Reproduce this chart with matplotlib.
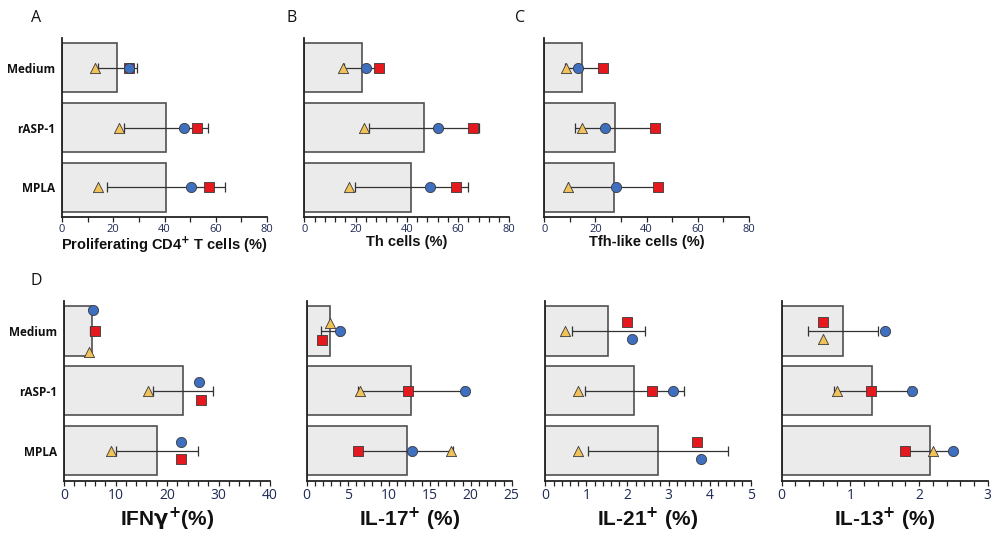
import matplotlib
matplotlib.use("Agg")
import matplotlib.pyplot as plt
import numpy as np

plt.rcParams['font.family'] = ['Open Sans', 'DejaVu Sans']

categories = ["Medium", "rASP-1", "MPLA"]

# Panel A: Proliferating CD4+ T cells (%)
a_mean = [21.5, 40.6, 40.6]
a_sd = [7.6, 16.4, 23.2]
a_tri = [12.7, 22.1, 14.0]
a_circ = [26.0, 47.6, 50.5]
a_sq = [26.3, 52.7, 57.4]

# Panel B: Th cells (%)
b_mean = [22.5, 46.7, 41.8]
b_sd = [6.9, 21.4, 21.9]
b_tri = [15.0, 23.4, 17.3]
b_circ = [23.9, 52.2, 48.9]
b_sq = [29.3, 65.7, 59.2]

# Panel C: Tfh-like cells (%)
c_mean = [14.7, 27.5, 27.2]
c_sd = [6.6, 15.3, 17.9]
c_tri = [8.6, 14.7, 9.1]
c_circ = [13.3, 23.9, 28.2]
c_sq = [22.8, 43.2, 44.6]

# Panel D1: IFNg+ (%)
ifn_mean = [5.45, 23.1, 18.1]
ifn_sd = [0.42, 5.75, 7.95]
ifn_tri = [4.9, 16.4, 9.1]
ifn_circ = [5.6, 26.3, 22.7]
ifn_sq = [6.0, 26.6, 22.8]

# Panel D2: IL-17+ (%)
il17_mean = [2.8, 12.7, 12.2]
il17_sd = [1.05, 6.4, 5.7]
il17_tri = [2.85, 6.5, 17.6]
il17_circ = [4.0, 19.3, 12.8]
il17_sq = [1.9, 12.4, 6.3]

# Panel D3: IL-21+ (%)
il21_mean = [1.53, 2.17, 2.75]
il21_sd = [0.89, 1.21, 1.70]
il21_tri = [0.49, 0.8, 0.8]
il21_circ = [2.1, 3.1, 3.8]
il21_sq = [2.0, 2.6, 3.7]

# Panel D4: IL-13+ (%)
il13_mean = [0.89, 1.31, 2.16]
il13_sd = [0.51, 0.55, 0.35]
il13_tri = [0.6, 0.8, 2.2]
il13_circ = [1.5, 1.9, 2.49]
il13_sq = [0.6, 1.3, 1.8]

# vertical jitter offsets (category units) used in the original to avoid overlap
no_jit = [0.0, 0.0, 0.0]

W, H = 992, 539
fig = plt.figure(figsize=(W / 100, H / 100), dpi=100)

def add_ax(left, right, top, bottom):
    return fig.add_axes([left / W, 1 - bottom / H, (right - left) / W, (bottom - top) / H])

TICKC = '#1f2a55'
BLUE = '#3f6fbf'
RED = '#e5181e'
YEL = '#f2c25a'
EDGE = '#3a3a3a'

def panel(ax, mean, sd, tri, circ, sq, xmax, major, minor, xlabel,
          show_y, xl_size, tick_size, labelpad, jt=no_jit, jc=no_jit, js=no_jit):
    y = np.arange(len(categories))
    ax.barh(y, mean, height=0.82, color='#ebebeb', edgecolor='#505050', linewidth=1.2, zorder=1)
    ax.errorbar(mean, y, xerr=sd, fmt='none', ecolor='#333333', elinewidth=0.9,
                capsize=3.5, capthick=0.9, zorder=2)
    ax.scatter(sq, y + np.array(js), marker='s', s=50, color=RED, edgecolor=EDGE, linewidth=0.6, zorder=3)
    ax.scatter(circ, y + np.array(jc), marker='o', s=54, color=BLUE, edgecolor=EDGE, linewidth=0.6, zorder=4)
    ax.scatter(tri, y + np.array(jt), marker='^', s=54, color=YEL, edgecolor=EDGE, linewidth=0.6, zorder=5)
    ax.set_xlim(0, xmax)
    ax.set_ylim(2.5, -0.5)
    ax.set_xticks(np.arange(0, xmax + 1e-9, major))
    ax.set_xticks(np.arange(0, xmax + 1e-9, minor), minor=True)
    ax.xaxis.set_major_formatter(matplotlib.ticker.FormatStrFormatter('%g'))
    for s in ['top', 'right']:
        ax.spines[s].set_visible(False)
    for s in ['left', 'bottom']:
        ax.spines[s].set_color('#222222')
        ax.spines[s].set_linewidth(1.3)
    ax.tick_params(axis='x', which='both', direction='out', length=3.5, width=0.9,
                   color='#222222', labelsize=tick_size, labelcolor=TICKC, pad=1.5)
    ax.tick_params(axis='y', which='both', length=0)
    ax.set_yticks(y)
    if show_y:
        ax.set_yticklabels(categories, fontweight='bold', fontsize=8.5, color='#111111')
        ax.tick_params(axis='y', pad=5)
    else:
        ax.set_yticklabels([])
    ax.set_xlabel(xlabel, fontsize=xl_size, fontweight='bold', color='#111111',
                  family=['Liberation Sans', 'DejaVu Sans'], labelpad=labelpad)

# Top row
axA = add_ax(62, 267, 38, 217)
panel(axA, a_mean, a_sd, a_tri, a_circ, a_sq, 80, 20, 10,
      'Proliferating CD4$^{\\bf{+}}$ T cells (%)', True, 10.5, 8, 0)
axB = add_ax(304.3, 509.3, 38, 217)
panel(axB, b_mean, b_sd, b_tri, b_circ, b_sq, 80, 20, 4,
      'Th cells (%)', False, 10.5, 8, 0)
axC = add_ax(544.3, 748.7, 38, 217)
panel(axC, c_mean, c_sd, c_tri, c_circ, c_sq, 80, 20, 10,
      'Tfh-like cells (%)', False, 10.5, 8, 0)

# Bottom row
axD1 = add_ax(64, 270, 301, 480.7)
panel(axD1, ifn_mean, ifn_sd, ifn_tri, ifn_circ, ifn_sq, 40, 10, 2,
      'IFN$\\mathbf{\\gamma}^{\\bf{+}}$(%)', True, 15, 10, 2,
      jt=[0.35, 0.0, 0.0], jc=[-0.35, -0.14, -0.15], js=[0.0, 0.15, 0.14])
axD2 = add_ax(306.7, 511.7, 301, 480.7)
panel(axD2, il17_mean, il17_sd, il17_tri, il17_circ, il17_sq, 25, 5, 1,
      'IL-17$^{\\bf{+}}$ (%)', False, 15, 10, 2,
      jt=[-0.13, 0.0, 0.0], jc=[0.0, 0.0, 0.0], js=[0.15, 0.0, 0.0])
axD3 = add_ax(545.3, 750.7, 301, 480.7)
panel(axD3, il21_mean, il21_sd, il21_tri, il21_circ, il21_sq, 5, 1, 0.2,
      'IL-21$^{\\bf{+}}$ (%)', False, 15, 10, 2,
      jt=[0.0, 0.0, 0.0], jc=[0.14, 0.0, 0.14], js=[-0.15, 0.0, -0.15])
axD4 = add_ax(781.7, 987.7, 301, 480.7)
panel(axD4, il13_mean, il13_sd, il13_tri, il13_circ, il13_sq, 3, 1, 0.2,
      'IL-13$^{\\bf{+}}$ (%)', False, 15, 10, 2,
      jt=[0.14, 0.0, 0.0], jc=[0.0, 0.0, 0.0], js=[-0.15, 0.0, 0.0])

# Panel letters
for letter, x, y in [('A', 36, 18), ('B', 292, 18), ('C', 520, 18), ('D', 36, 281)]:
    fig.text(x / W, 1 - y / H, letter, fontsize=11.5, ha='center', va='center', color='#111111')

fig.savefig('out.png', dpi=100)
